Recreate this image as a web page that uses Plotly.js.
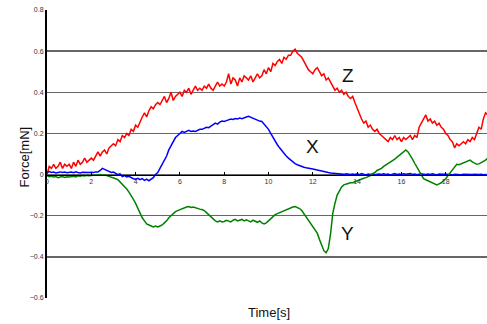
<!DOCTYPE html>
<html>
<head>
<meta charset="utf-8">
<script src="https://cdn.plot.ly/plotly-3.0.1.min.js"></script>
<style>
html,body{margin:0;padding:0;overflow:hidden;background:#fff;}
#chart{width:490px;height:324px;}
</style>
</head>
<body>
<div id="chart"></div>
<script>
// Time axis: 0.0 .. 19.9 s, step 0.1 s (one row = one second)
const timeStart = 0, timeStep = 0.1;

const forceZ = [
 0.00,0.04,0.03,0.05,0.03,0.04,0.06,0.03,0.05,0.04,
 0.05,0.03,0.06,0.04,0.07,0.05,0.06,0.08,0.06,0.07,
 0.08,0.07,0.09,0.11,0.09,0.11,0.12,0.10,0.13,0.14,
 0.15,0.14,0.17,0.16,0.19,0.18,0.20,0.19,0.22,0.21,
 0.24,0.23,0.26,0.28,0.30,0.28,0.31,0.33,0.32,0.34,
 0.35,0.34,0.36,0.38,0.35,0.37,0.40,0.36,0.38,0.39,
 0.40,0.38,0.41,0.40,0.42,0.39,0.41,0.43,0.41,0.42,
 0.41,0.43,0.42,0.44,0.42,0.41,0.43,0.45,0.43,0.44,
 0.43,0.45,0.49,0.44,0.47,0.46,0.43,0.47,0.45,0.48,
 0.47,0.46,0.48,0.45,0.47,0.49,0.47,0.48,0.51,0.49,
 0.52,0.50,0.54,0.53,0.55,0.56,0.54,0.57,0.56,0.58,
 0.58,0.60,0.61,0.59,0.58,0.57,0.55,0.53,0.51,0.50,
 0.49,0.51,0.52,0.50,0.48,0.49,0.46,0.47,0.45,0.43,
 0.41,0.42,0.40,0.41,0.39,0.40,0.38,0.37,0.38,0.35,
 0.32,0.29,0.27,0.25,0.26,0.23,0.24,0.22,0.21,0.22,
 0.20,0.19,0.18,0.17,0.16,0.18,0.17,0.19,0.17,0.18,
 0.16,0.18,0.17,0.18,0.19,0.17,0.19,0.18,0.23,0.25,
 0.27,0.29,0.26,0.27,0.25,0.26,0.24,0.25,0.23,0.22,
 0.20,0.19,0.17,0.16,0.13,0.15,0.14,0.15,0.16,0.15,
 0.17,0.16,0.18,0.17,0.20,0.23,0.22,0.27,0.30,0.29
];

const forceX = [
 0.010,0.015,0.010,0.012,0.008,0.010,0.013,0.010,0.012,0.009,
 0.010,0.012,0.009,0.013,0.010,0.008,0.011,0.010,0.012,0.010,
 0.011,0.010,0.013,0.012,0.020,0.030,0.025,0.020,0.015,0.010,
 0.012,0.005,0.000,0.003,-0.010,-0.005,-0.012,-0.008,-0.015,-0.020,
 -0.022,-0.018,-0.025,-0.020,-0.028,-0.022,-0.030,-0.020,-0.015,0.000,
 0.010,0.030,0.050,0.070,0.090,0.120,0.140,0.160,0.180,0.190,
 0.200,0.210,0.205,0.210,0.215,0.210,0.212,0.210,0.215,0.220,
 0.220,0.225,0.230,0.228,0.235,0.240,0.250,0.245,0.255,0.260,
 0.258,0.262,0.265,0.270,0.268,0.272,0.270,0.275,0.272,0.278,
 0.280,0.283,0.278,0.275,0.272,0.265,0.260,0.258,0.245,0.232,
 0.220,0.200,0.180,0.160,0.145,0.130,0.115,0.100,0.090,0.080,
 0.070,0.060,0.053,0.048,0.043,0.040,0.036,0.033,0.030,0.028,
 0.027,0.025,0.022,0.020,0.018,0.015,0.012,0.010,0.008,0.007,
 0.005,0.003,0.002,0.003,0.001,0.004,0.002,0.000,0.003,0.001,
 0.004,0.000,0.005,0.002,-0.002,0.003,0.001,0.004,-0.001,0.002,
 0.003,0.000,0.004,0.001,0.003,-0.002,0.002,0.005,0.001,0.003,
 0.000,0.004,0.002,0.003,0.005,0.001,0.003,-0.001,0.002,0.004,
 0.002,0.000,0.003,0.001,0.004,0.002,-0.002,0.003,0.001,0.002,
 0.003,0.000,0.002,-0.002,0.001,0.000,0.002,-0.001,0.001,0.000,
 0.001,-0.002,0.000,0.001,-0.001,0.000,0.002,-0.001,0.000,-0.001
];

const forceY = [
 -0.005,-0.010,-0.008,-0.012,-0.010,-0.015,-0.012,-0.010,-0.014,-0.011,
 -0.012,-0.010,-0.008,-0.011,-0.006,-0.008,-0.005,-0.007,-0.004,-0.006,
 -0.005,-0.003,-0.004,-0.002,0.000,-0.003,-0.002,-0.005,-0.008,-0.012,
 -0.015,-0.020,-0.025,-0.035,-0.045,-0.055,-0.070,-0.085,-0.100,-0.120,
 -0.140,-0.165,-0.190,-0.210,-0.225,-0.240,-0.245,-0.250,-0.255,-0.250,
 -0.255,-0.250,-0.245,-0.235,-0.225,-0.210,-0.200,-0.190,-0.180,-0.175,
 -0.170,-0.165,-0.160,-0.158,-0.155,-0.160,-0.158,-0.162,-0.165,-0.168,
 -0.170,-0.175,-0.185,-0.195,-0.205,-0.215,-0.225,-0.230,-0.225,-0.230,
 -0.228,-0.222,-0.226,-0.230,-0.222,-0.218,-0.225,-0.220,-0.218,-0.225,
 -0.220,-0.225,-0.230,-0.222,-0.228,-0.232,-0.225,-0.235,-0.240,-0.235,
 -0.225,-0.215,-0.205,-0.195,-0.190,-0.185,-0.180,-0.175,-0.170,-0.165,
 -0.160,-0.158,-0.155,-0.160,-0.165,-0.175,-0.190,-0.210,-0.225,-0.240,
 -0.255,-0.270,-0.285,-0.315,-0.345,-0.370,-0.380,-0.360,-0.290,-0.190,
 -0.140,-0.100,-0.080,-0.060,-0.050,-0.045,-0.043,-0.040,-0.040,-0.035,
 -0.030,-0.025,-0.020,-0.018,-0.015,-0.010,-0.005,0.005,0.010,0.020,
 0.025,0.030,0.040,0.048,0.055,0.060,0.068,0.075,0.085,0.095,
 0.100,0.110,0.120,0.110,0.095,0.075,0.055,0.035,0.015,-0.005,
 -0.020,-0.025,-0.030,-0.035,-0.040,-0.045,-0.050,-0.045,-0.040,-0.030,
 -0.020,-0.005,0.010,0.025,0.040,0.050,0.048,0.052,0.055,0.060,
 0.065,0.070,0.062,0.055,0.050,0.052,0.058,0.062,0.070,0.080
];

const seriesLabels = ["Z", "X", "Y"];
const xTickVals = [0,2,4,6,8,10,12,14,16,18,20];
const yTickVals = [0.8,0.6,0.4,0.2,0,-0.2,-0.4,-0.6];

const time = forceZ.map((_, i) => +(timeStart + i * timeStep).toFixed(1));

const traces = [
  {x: time, y: forceZ, name: "Z", mode: "lines", line: {color: "#ff0000", width: 1.5}},
  {x: time, y: forceX, name: "X", mode: "lines", line: {color: "#0000ff", width: 1.5}},
  {x: time, y: forceY, name: "Y", mode: "lines", line: {color: "#008000", width: 1.5}}
];

const labelPos = [
  {x: 13.6, y: 0.48},
  {x: 12.0, y: 0.135},
  {x: 13.55, y: -0.285}
];

const layout = {
  width: 490, height: 324,
  margin: {l: 47, r: 0, t: 10, b: 26},
  paper_bgcolor: "#fff", plot_bgcolor: "#fff",
  showlegend: false,
  font: {family: "Liberation Sans, Arial, sans-serif", color: "#222"},
  xaxis: {
    range: [0, 20], anchor: "free", position: 0.6 / 1.4,
    tickvals: xTickVals, ticktext: xTickVals.map(String),
    showgrid: false, zeroline: false,
    showline: true, linecolor: "#000", linewidth: 1.5,
    ticks: "inside", ticklen: 3, tickcolor: "#000",
    tickfont: {size: 7, color: "#333"}
  },
  yaxis: {
    range: [-0.6, 0.8],
    tickvals: yTickVals,
    showgrid: true, gridcolor: "#666", gridwidth: 1.3,
    zeroline: false,
    showline: true, linecolor: "#000", linewidth: 2,
    ticks: "", tickfont: {size: 7, color: "#333"}
  },
  annotations: seriesLabels.map((s, i) => ({
    x: labelPos[i].x, y: labelPos[i].y, xref: "x", yref: "y",
    text: s, showarrow: false, font: {size: 19, color: "#111"}
  })).concat([
    {x: 0.5, y: -0.052, xref: "paper", yref: "paper", text: "Time[s]",
     showarrow: false, font: {size: 13, color: "#111"}, yanchor: "middle"},
    {x: -0.072, y: 0.49, xref: "paper", yref: "paper", text: "Force[mN]",
     showarrow: false, textangle: -90, font: {size: 13, color: "#111"}}
  ])
};

Plotly.newPlot("chart", traces, layout, {displayModeBar: false, staticPlot: true});
</script>
</body>
</html>
